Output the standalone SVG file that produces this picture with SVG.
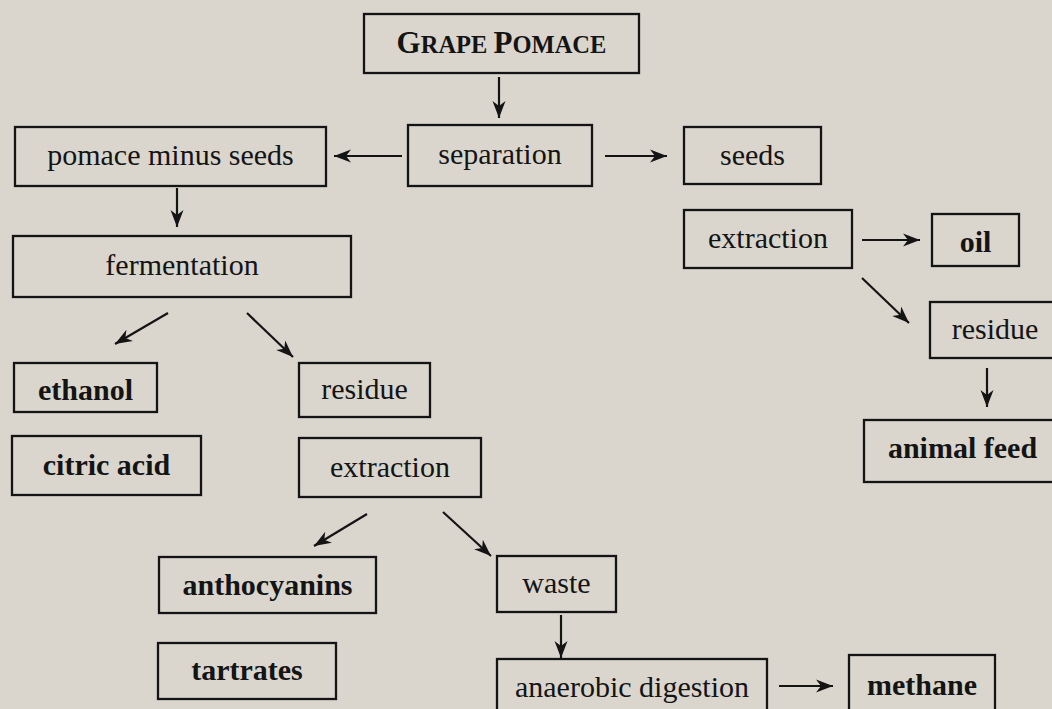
<svg xmlns="http://www.w3.org/2000/svg" width="1052" height="709" viewBox="0 0 1052 709">
<defs>
<style>
.box{fill:none;stroke:#141414;stroke-width:2.3}
.t{font-family:"Liberation Serif","Times New Roman",serif;font-size:30px;fill:#141414;text-anchor:middle}
.b{font-weight:bold}
.c line{stroke:#141414;stroke-width:2.2;marker-end:url(#ah)}
</style>
<marker id="ah" markerUnits="userSpaceOnUse" markerWidth="18" markerHeight="14" viewBox="0 0 18 14" refX="17" refY="7" orient="auto">
<path d="M0,0.5 L17,7 L0,13.5 L5,7 Z" fill="#141414"/>
</marker>
</defs>
<rect x="0" y="0" width="1052" height="709" fill="#dad6ce"/>

<g id="grape-pomace"><rect class="box" x="364" y="14" width="275" height="59"/>
<text class="t b" x="501.5" y="53"><tspan font-size="31">G</tspan><tspan font-size="24.5">RAPE </tspan><tspan font-size="31">P</tspan><tspan font-size="24.5">OMACE</tspan></text></g>
<g id="separation"><rect class="box" x="408" y="125" width="184" height="61"/><text class="t" x="500" y="164">separation</text></g>
<g id="pomace-minus-seeds"><rect class="box" x="15" y="127" width="311" height="59"/><text class="t" x="170.5" y="165">pomace minus seeds</text></g>
<g id="seeds"><rect class="box" x="684" y="127" width="137" height="57"/><text class="t" x="752.5" y="165">seeds</text></g>
<g id="fermentation"><rect class="box" x="13" y="236" width="338" height="61"/><text class="t" x="182" y="275">fermentation</text></g>
<g id="extraction-seeds"><rect class="box" x="684" y="210" width="168" height="58"/><text class="t" x="768" y="248">extraction</text></g>
<g id="oil"><rect class="box" x="932" y="214" width="87" height="52"/><text class="t b" x="975.5" y="252">oil</text></g>
<g id="residue-seeds"><rect class="box" x="930" y="302" width="135" height="56"/><text class="t" x="995" y="339">residue</text></g>
<g id="animal-feed"><rect class="box" x="864" y="420" width="200" height="62"/><text class="t b" x="962.5" y="458">animal feed</text></g>
<g id="ethanol"><rect class="box" x="14" y="363" width="143" height="49"/><text class="t b" x="85.5" y="400">ethanol</text></g>
<g id="residue"><rect class="box" x="299" y="363" width="131" height="54"/><text class="t" x="364.5" y="399">residue</text></g>
<g id="citric-acid"><rect class="box" x="12" y="436" width="189" height="59"/><text class="t b" x="106.5" y="475">citric acid</text></g>
<g id="extraction"><rect class="box" x="299" y="438" width="182" height="59"/><text class="t" x="390" y="477">extraction</text></g>
<g id="anthocyanins"><rect class="box" x="159" y="557" width="217" height="56"/><text class="t b" x="267.5" y="595">anthocyanins</text></g>
<g id="tartrates"><rect class="box" x="158" y="643" width="178" height="56"/><text class="t b" x="247" y="680">tartrates</text></g>
<g id="waste"><rect class="box" x="497" y="556" width="119" height="56"/><text class="t" x="556.5" y="593">waste</text></g>
<g id="anaerobic-digestion"><rect class="box" x="497" y="659" width="270" height="70"/><text class="t" x="632" y="697">anaerobic digestion</text></g>
<g id="methane"><rect class="box" x="849" y="655" width="146" height="70"/><text class="t b" x="922" y="695">methane</text></g>

<g id="connectors" class="c">
<line x1="499" y1="77" x2="499" y2="118"/>
<line x1="402" y1="156" x2="334" y2="156"/>
<line x1="605" y1="156" x2="667" y2="156"/>
<line x1="177" y1="188" x2="177" y2="227"/>
<line x1="168" y1="313" x2="115" y2="344"/>
<line x1="247" y1="313" x2="293" y2="357"/>
<line x1="862" y1="240" x2="920" y2="240"/>
<line x1="862" y1="278" x2="909" y2="323"/>
<line x1="987" y1="368" x2="987" y2="407"/>
<line x1="367" y1="514" x2="314" y2="546"/>
<line x1="443" y1="512" x2="491" y2="556"/>
<line x1="561" y1="615" x2="561" y2="658"/>
<line x1="779" y1="686" x2="833" y2="686"/>
</g>
</svg>
